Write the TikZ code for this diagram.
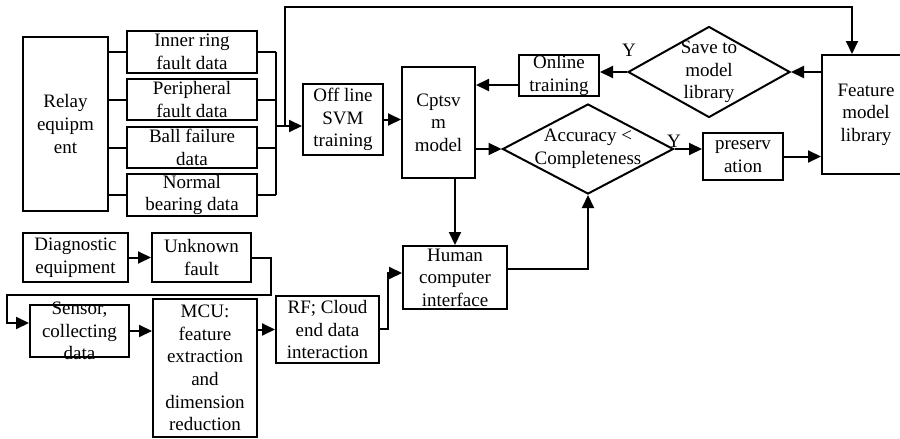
\documentclass[tikz,border=0pt]{standalone}
\usepackage{fontspec}
\setmainfont{Liberation Serif}
\usetikzlibrary{shapes.geometric,arrows.meta,calc}
\begin{document}
\begin{tikzpicture}[x=0.5pt,y=-0.5pt,
  line width=1pt,
  box/.style={draw, rectangle, inner sep=0pt},
  dia/.style={draw, diamond, inner sep=0pt},
  txt/.style={align=center, font=\fontsize{9.5}{11.3}\selectfont, inner sep=0pt},
  arr/.style={-{Triangle[length=6.5pt,width=6pt]}},
  every label/.style={txt},
]
\useasboundingbox (0,0) rectangle (900,439);
\clip (0,0) rectangle (900,439);

% boxes
\node[box, minimum width=42.5pt, minimum height=87pt, label={center:{Relay\\equipm\\ent}}] (relay) at (65.5,124) {};
\node[box, minimum width=65pt, minimum height=21pt, label={center:{Inner ring\\fault data}}] (inner) at (192,52) {};
\node[box, minimum width=65pt, minimum height=20.5pt, label={center:{Peripheral\\fault data}}] (periph) at (192,99.5) {};
\node[box, minimum width=65pt, minimum height=20.5pt, label={center:{Ball failure\\data}}] (ball) at (192,147.5) {};
\node[box, minimum width=65pt, minimum height=21pt, label={center:{Normal\\bearing data}}] (normal) at (192,195) {};
\node[box, minimum width=40pt, minimum height=35.5pt, label={center:{Off line\\SVM\\training}}] (offline) at (343,119.5) {};
\node[box, minimum width=36.5pt, minimum height=55.5pt, label={center:{Cptsv\\m\\model}}] (cptsvm) at (438.5,122.5) {};
\node[box, minimum width=40pt, minimum height=20.5pt, label={center:{Online\\training}}] (online) at (559,75.5) {};
\node[box, minimum width=44pt, minimum height=59.5pt, label={center:{Feature\\model\\library}}] (feature) at (866,114.5) {};
\node[box, minimum width=40pt, minimum height=23.5pt, label={center:{preserv\\ation}}] (preserv) at (743,156.5) {};
\node[box, minimum width=52pt, minimum height=31.5pt, label={center:{Human\\computer\\interface}}] (human) at (455,277.5) {};
\node[box, minimum width=51.5pt, minimum height=33.5pt, label={center:{RF; Cloud\\end data\\interaction}}] (rf) at (327.5,329.5) {};
\node[box, minimum width=52.5pt, minimum height=24.5pt, label={center:{Diagnostic\\equipment}}] (diag) at (75.5,257.5) {};
\node[box, minimum width=49.5pt, minimum height=24.5pt, label={center:{Unknown\\fault}}] (unknown) at (201.5,257.5) {};
\node[box, minimum width=49.5pt, minimum height=26pt, label={center:{Sensor,\\collecting\\data}}] (sensor) at (79.5,331) {};
\node[box, minimum width=52pt, minimum height=69pt, label={center:{MCU:\\feature\\extraction\\and\\dimension\\reduction}}] (mcu) at (205,368) {};

% diamonds
\node[dia, minimum width=85.5pt, minimum height=45pt, label={center:{Accuracy <\\Completeness}}] (acc) at (588,149) {};
\node[dia, minimum width=81pt, minimum height=45.5pt, label={center:{Save to\\model\\library}}] (save) at (709,72) {};

% Y labels
\node[txt] (y1) at (629,50) {Y};
\node[txt] (y2) at (674,141) {Y};

% connectors
\foreach \n in {inner,periph,ball,normal} \draw (relay.east |- \n.west) -- (\n.west);
\coordinate (bt) at (276,52);
\coordinate (bb) at (276,195);
\foreach \n in {inner,periph,ball,normal} \draw (\n.east) -- (\n.east -| bt);
\draw (bt) -- (bb);
\coordinate (bm) at (276,126);
\draw[arr] (bm) -- (bm -| offline.west);
\coordinate (fb) at (285,126);
\coordinate (ftop) at (852,7);
\draw[arr] (fb) |- (ftop) -- (ftop |- feature.north);

\draw[arr] (offline.east) -- (offline.east -| cptsvm.west);
\coordinate (o1) at (519,85);
\draw[arr] (o1) -- (o1 -| cptsvm.east);
\draw[arr] (acc.west -| cptsvm.east) -- (acc.west);
\draw[arr] (acc.east) -- (acc.east -| preserv.west);
\draw[arr] (preserv.east) -- (preserv.east -| feature.west);
\draw[arr] (save.east -| feature.west) -- (save.east);
\draw[arr] (save.west) -- (save.west -| online.east);
\draw[arr] (human.north |- cptsvm.south) -- (human.north);
\coordinate (h1) at (507,269);
\draw[arr] (h1) -| (acc.south);
\coordinate (r1) at (379,329);
\coordinate (r2) at (388,273);
\draw[arr] (r1) -| (r2) -- (r2 -| human.west);

\draw[arr] (diag.east) -- (diag.east -| unknown.west);
\coordinate (u2) at (271,295);
\coordinate (u3) at (7,323);
\draw[arr] (unknown.east) -| (u2) -| (u3) -- (u3 -| sensor.west);
\draw[arr] (sensor.east) -- (sensor.east -| mcu.west);
\draw[arr] (rf.west -| mcu.east) -- (rf.west);
\end{tikzpicture}
\end{document}
